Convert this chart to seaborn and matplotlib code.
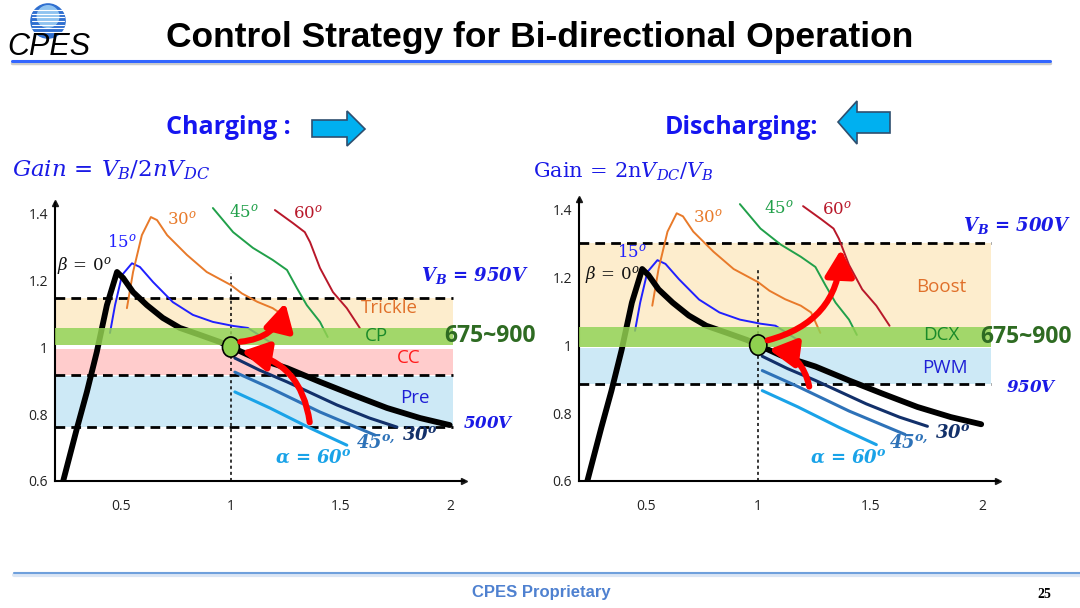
import matplotlib.pyplot as plt
import seaborn as sns
from matplotlib.patches import Ellipse, FancyArrowPatch, Polygon, Circle

# ---- gain curves (x: normalized frequency, y: gain) ----
beta0_x = [0.236, 0.30, 0.345, 0.39, 0.436, 0.482, 0.51, 0.555, 0.618, 0.69, 0.768, 0.86, 0.95, 1.0,
           1.10, 1.255, 1.405, 1.555, 1.71, 1.86, 1.995]
beta0_y = [0.597, 0.758, 0.866, 0.985, 1.125, 1.224, 1.206, 1.164, 1.125, 1.087, 1.057, 1.036, 1.015, 1.0,
           0.97, 0.937, 0.896, 0.857, 0.818, 0.788, 0.767]
beta15_x = [0.45, 0.473, 0.505, 0.55, 0.586, 0.646, 0.736, 0.827, 0.918, 1.01, 1.077, 1.177]
beta15_y = [1.042, 1.125, 1.215, 1.25, 1.239, 1.194, 1.134, 1.096, 1.075, 1.063, 1.057, 1.015]
beta30_x = [0.527, 0.555, 0.595, 0.636, 0.664, 0.71, 0.80, 0.89, 1.0, 1.05, 1.12, 1.19, 1.236, 1.277]
beta30_y = [1.116, 1.224, 1.334, 1.388, 1.379, 1.334, 1.275, 1.224, 1.185, 1.16, 1.135, 1.116, 1.096, 1.036]
beta45_x = [0.918, 1.01, 1.10, 1.19, 1.255, 1.30, 1.345, 1.405, 1.44]
beta45_y = [1.415, 1.343, 1.296, 1.26, 1.23, 1.176, 1.125, 1.075, 1.03]
beta60_x = [1.20, 1.282, 1.336, 1.36, 1.405, 1.464, 1.527, 1.586]
beta60_y = [1.409, 1.37, 1.343, 1.313, 1.236, 1.164, 1.116, 1.057]
alpha30_x = [1.018, 1.13, 1.255, 1.482, 1.63, 1.755]
alpha30_y = [0.967, 0.931, 0.896, 0.827, 0.788, 0.761]
alpha45_x = [1.018, 1.177, 1.405, 1.655]
alpha45_y = [0.925, 0.878, 0.806, 0.737]
alpha60_x = [1.018, 1.177, 1.36, 1.527]
alpha60_y = [0.866, 0.818, 0.758, 0.707]

# ---- operating bands (gain limits) ----
chg_bands = [(1.057, 1.146, 'Trickle'), (1.005, 1.057, 'CP'), (0.916, 0.995, 'CC'), (0.761, 0.913, 'Pre')]
chg_dashes = [1.146, 0.916, 0.761]
dis_bands = [(1.053, 1.30, 'Boost'), (0.994, 1.053, 'DCX'), (0.885, 0.99, 'PWM')]
dis_dashes = [1.30, 0.885]

# red transition arrows (start, end) in gain coordinates
chg_arrows = [((1.03, 1.015), (1.25, 1.14)), ((1.36, 0.767), (1.035, 0.988))]
dis_arrows = [((1.03, 1.012), (1.37, 1.29)), ((1.23, 0.87), (1.035, 0.988))]

x_ticks = [0.5, 1, 1.5, 2]
x_labels = ['0.5', '1', '1.5', '2']
y_ticks = [0.6, 0.8, 1.0, 1.2, 1.4]
y_labels = ['0.6', '0.8', '1', '1.2', '1.4']

sns.set_theme(style='white')
plt.rcParams['font.family'] = ['Open Sans', 'DejaVu Sans']
plt.rcParams['mathtext.fontset'] = 'custom'
plt.rcParams['mathtext.rm'] = 'DejaVu Serif'
plt.rcParams['mathtext.it'] = 'DejaVu Serif:italic'
plt.rcParams['mathtext.bf'] = 'DejaVu Serif:italic:bold'

BAND_COLORS = {'Trickle': '#fdedcd', 'Boost': '#fdedcd', 'CP': '#92d050', 'DCX': '#92d050',
               'CC': '#ffcccc', 'Pre': '#cde9f6', 'PWM': '#cde9f6'}
BAND_TEXT = {'Trickle': '#e0702a', 'Boost': '#e0702a', 'CP': '#1a8a2a', 'DCX': '#1a8a2a',
             'CC': '#ff1a1a', 'Pre': '#1f1fd6', 'PWM': '#1f1fd6'}

fig = plt.figure(figsize=(10.8, 6.08), dpi=100)
W, H = 1080, 608


def px_box(x0, x1, y_top, y_bot):
    return [x0 / W, 1 - y_bot / H, (x1 - x0) / W, (y_bot - y_top) / H]


def draw_panel(ax, xmax, band_end, bands, dashes, arrows, labels):
    ax.set_xlim(0.2, xmax)
    ax.set_ylim(0.6, 1.43)
    for sp in ['top', 'right']:
        ax.spines[sp].set_visible(False)
    for sp in ['left', 'bottom']:
        ax.spines[sp].set_color('black')
        ax.spines[sp].set_linewidth(1.5)
    ax.plot(1, 0, '>k', ms=5, transform=ax.transAxes, clip_on=False)
    ax.plot(0, 1, '^k', ms=5, transform=ax.transAxes, clip_on=False)
    ax.set_xticks(x_ticks, x_labels)
    ax.set_yticks(y_ticks, y_labels)
    ax.tick_params(axis='x', length=0, pad=13, labelsize=10, labelcolor='#222222')
    ax.tick_params(axis='y', length=0, pad=5, labelsize=10, labelcolor='#222222')

    for lo, hi, name in bands:
        z = 4 if name in ('CP', 'DCX') else 1
        a = 0.85 if z == 4 else 1
        ax.fill_between([0.2, band_end], lo, hi, color=BAND_COLORS[name], lw=0, zorder=z, alpha=a)
    ax.hlines(dashes, 0.2, band_end, colors='black', lw=2, linestyles=(0, (3.5, 2.2)), zorder=2)
    ax.vlines(1, 0.6, 1.22, colors='black', lw=1.1, linestyles=(0, (2, 2)), zorder=2)

    sns.lineplot(x=beta15_x, y=beta15_y, ax=ax, color='#2020ff', lw=1.4, sort=False, estimator=None, zorder=3)
    sns.lineplot(x=beta30_x, y=beta30_y, ax=ax, color='#e87a2a', lw=1.4, sort=False, estimator=None, zorder=3)
    sns.lineplot(x=beta45_x, y=beta45_y, ax=ax, color='#21a04a', lw=1.4, sort=False, estimator=None, zorder=3)
    sns.lineplot(x=beta60_x, y=beta60_y, ax=ax, color='#b8182a', lw=1.4, sort=False, estimator=None, zorder=3)
    sns.lineplot(x=beta0_x, y=beta0_y, ax=ax, color='black', lw=4.2, sort=False, estimator=None, zorder=3)
    sns.lineplot(x=alpha30_x, y=alpha30_y, ax=ax, color='#12306a', lw=2.2, sort=False, estimator=None, zorder=5)
    sns.lineplot(x=alpha45_x, y=alpha45_y, ax=ax, color='#2e72b8', lw=2.2, sort=False, estimator=None, zorder=5)
    sns.lineplot(x=alpha60_x, y=alpha60_y, ax=ax, color='#1aa3e8', lw=2.2, sort=False, estimator=None, zorder=5)

    ax.add_patch(Ellipse((1, 1), 0.077, 0.06, facecolor='#8fd14f', edgecolor='black', lw=1.2, zorder=6))
    for start, end in arrows:
        ax.add_patch(FancyArrowPatch(start, end, connectionstyle='arc3,rad=0.38',
                                     arrowstyle='-|>,head_length=1.0,head_width=0.55',
                                     mutation_scale=16, lw=4.4, color='#ff0000', zorder=7))

    for (x, y), txt, col, fs, kw in labels:
        ax.text(x, y, txt, color=col, fontsize=fs, ha='center', va='center', clip_on=False, zorder=8, **kw)


# ---- left panel: charging ----
ax1 = fig.add_axes(px_box(55, 464, 203, 481))
chg_labels = [
    ((0.336, 1.24), r'$\beta\,=\,0^o$', '#111111', 12, {}),
    ((0.505, 1.31), r'$15^o$', '#2020ff', 12, {}),
    ((0.777, 1.38), r'$30^o$', '#e87a2a', 12, {}),
    ((1.06, 1.40), r'$45^o$', '#21a04a', 12, {}),
    ((1.35, 1.40), r'$60^o$', '#b8182a', 12, {}),
    ((1.72, 1.116), 'Trickle', BAND_TEXT['Trickle'], 13.5, {}),
    ((1.66, 1.032), 'CP', BAND_TEXT['CP'], 13.5, {}),
    ((1.81, 0.968), 'CC', BAND_TEXT['CC'], 13.5, {}),
    ((1.836, 0.848), 'Pre', BAND_TEXT['Pre'], 13.5, {}),
    ((2.11, 1.215), r'$\mathbf{V_B\,=\,950V}$', '#1a1ae6', 13, {}),
    ((2.18, 1.032), '675~900', '#2e6b22', 16.5, {'fontweight': 'bold'}),
    ((2.17, 0.77), r'$\mathbf{500V}$', '#1a1ae6', 12, {}),
    ((1.86, 0.737), r'$\mathbf{30^o}$', '#12306a', 13, {}),
    ((1.66, 0.713), r'$\mathbf{45^{o,}}$', '#2e72b8', 13, {}),
    ((1.373, 0.67), r'$\mathbf{\alpha\,=\,60^o}$', '#1aa3e8', 13, {}),
]
draw_panel(ax1, 2.06, 2.01, chg_bands, chg_dashes, chg_arrows, chg_labels)

# ---- right panel: discharging ----
ax2 = fig.add_axes(px_box(579, 998, 199, 481))
dis_labels = [
    ((0.35, 1.205), r'$\beta\,=\,0^o$', '#111111', 12, {}),
    ((0.4375, 1.27), r'$15^o$', '#2020ff', 12, {}),
    ((0.777, 1.376), r'$30^o$', '#e87a2a', 12, {}),
    ((1.094, 1.40), r'$45^o$', '#21a04a', 12, {}),
    ((1.35, 1.40), r'$60^o$', '#b8182a', 12, {}),
    ((1.817, 1.17), 'Boost', BAND_TEXT['Boost'], 13.5, {}),
    ((1.817, 1.031), 'DCX', BAND_TEXT['DCX'], 13.5, {}),
    ((1.835, 0.933), 'PWM', BAND_TEXT['PWM'], 13.5, {}),
    ((2.156, 1.353), r'$\mathbf{V_B\,=\,500V}$', '#1a1ae6', 13, {}),
    ((2.196, 1.024), '675~900', '#2e6b22', 16.5, {'fontweight': 'bold'}),
    ((2.22, 0.874), r'$\mathbf{950V}$', '#1a1ae6', 12, {}),
    ((1.866, 0.741), r'$\mathbf{30^o}$', '#12306a', 13, {}),
    ((1.67, 0.712), r'$\mathbf{45^{o,}}$', '#2e72b8', 13, {}),
    ((1.40, 0.67), r'$\mathbf{\alpha\,=\,60^o}$', '#1aa3e8', 13, {}),
]
draw_panel(ax2, 2.07, 2.04, dis_bands, dis_dashes, dis_arrows, dis_labels)

# ---- slide decoration ----
fig.text(540 / W, 1 - 38 / H, 'Control Strategy for Bi-directional Operation', ha='center', va='center',
         fontsize=25.5, fontweight='bold', family='Liberation Sans', color='black')
fig.add_artist(plt.Line2D([12 / W, 1050 / W], [1 - 63 / H, 1 - 63 / H], color='#cccccc', lw=2.5))
fig.add_artist(plt.Line2D([12 / W, 1050 / W], [1 - 61 / H, 1 - 61 / H], color='#3366ff', lw=2.2))
fig.add_artist(plt.Line2D([14 / W, 1080 / W], [1 - 575 / H, 1 - 575 / H], color='#dbe6f5', lw=3))
fig.add_artist(plt.Line2D([14 / W, 1080 / W], [1 - 573 / H, 1 - 573 / H], color='#6fa0dc', lw=1.5))
fig.text(541 / W, 1 - 592 / H, 'CPES Proprietary', ha='center', va='center', fontsize=12,
         fontweight='bold', family='Liberation Sans', color='#4f81d0')
fig.text(1044 / W, 1 - 594 / H, '25', ha='center', va='center', fontsize=10,
         fontweight='bold', family='Liberation Serif', color='black')

# logo
lax = fig.add_axes(px_box(30, 66, 3, 39))
lax.set_xlim(-1, 1)
lax.set_ylim(-1, 1)
lax.set_aspect('equal')
lax.axis('off')
lax.add_patch(Circle((0, 0), 0.95, color='#2f6fd0'))
lax.add_patch(Circle((0, 0.25), 0.6, color='#8fc3f0'))
for yy in [-0.6, -0.4, -0.2, 0.0, 0.2, 0.4, 0.6]:
    lax.plot([-0.9, 0.9], [yy, yy], color='white', lw=0.8)
fig.text(49 / W, 1 - 47 / H, 'CPES', ha='center', va='center', fontsize=22, fontstyle='italic',
         family='Liberation Sans', color='black')

# headings with block arrows
fig.text(228 / W, 1 - 128 / H, 'Charging :', ha='center', va='center', fontsize=18,
         fontweight='bold', color='#1515f0')
fig.text(741 / W, 1 - 128 / H, 'Discharging:', ha='center', va='center', fontsize=18,
         fontweight='bold', color='#1515f0')
r_arrow = [(312, 120), (347, 120), (347, 111), (365, 129), (347, 146), (347, 137), (312, 137)]
l_arrow = [(890, 112), (857, 112), (857, 101), (838, 122), (857, 144), (857, 133), (890, 133)]
for shape in (r_arrow, l_arrow):
    fig.add_artist(Polygon([(x / W, 1 - y / H) for x, y in shape], closed=True, facecolor='#00b0f0',
                           edgecolor='#2f4f6f', lw=1.2, transform=fig.transFigure))
fig.text(12 / W, 1 - 170 / H, r'$Gain\,=\,V_B/2nV_{DC}$', ha='left', va='center', fontsize=16.5, color='#1a1ae6')
fig.text(533 / W, 1 - 172 / H, r'$\mathrm{Gain}\,=\,2\mathrm{n}V_{DC}/V_B$', ha='left', va='center',
         fontsize=15, color='#1a1ae6')

fig.savefig('out.png', dpi=100)
